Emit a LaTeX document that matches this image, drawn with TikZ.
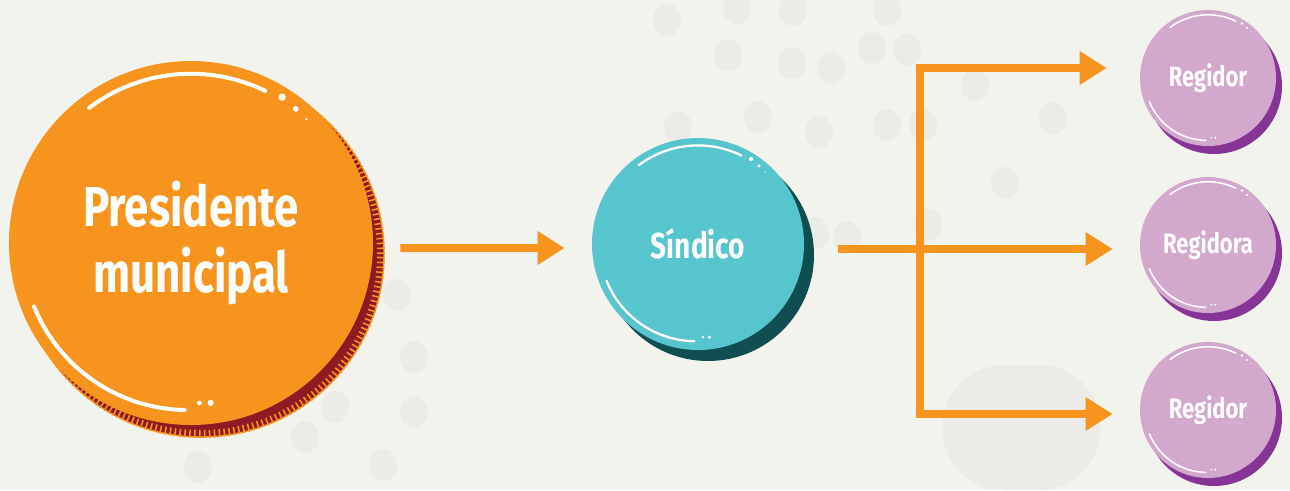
\documentclass[tikz,border=0pt]{standalone}
\usepackage{fontspec}
\usetikzlibrary{arrows.meta}
\newfontfamily\coinfont{Fira Sans}[FakeStretch=0.78]
\definecolor{myOrange}{RGB}{247,148,30}
\definecolor{myRed}{RGB}{142,27,35}
\definecolor{myTeal}{RGB}{86,197,205}
\definecolor{myDarkTeal}{RGB}{17,78,82}
\definecolor{myLilac}{RGB}{210,168,205}
\definecolor{myPurple}{RGB}{134,53,150}
\definecolor{myPaper}{RGB}{243,243,238}
\definecolor{myDot}{RGB}{237,235,231}

% white gloss on a coin: #1 node, #2 radius (cm)
\newcommand{\shine}[2]{%
	\draw[shine,line width={#2*0.022cm}] ([shift={(127:{0.93*#2})}]#1.center) arc[start angle=127,end angle=64,radius={0.93*#2}];
	\fill[white] ([shift={(58:{0.945*#2})}]#1.center) circle[radius={0.02*#2}];
	\fill[white] ([shift={(52:{0.935*#2})}]#1.center) circle[radius={0.016*#2}];
	\fill[white] ([shift={(47:{0.93*#2})}]#1.center) circle[radius={0.007*#2}];
	\draw[shine,line width={#2*0.022cm}] ([shift={(202:{0.93*#2})}]#1.center) arc[start angle=202,end angle=269,radius={0.91*#2}];
	\fill[white] ([shift={(273:{0.88*#2})}]#1.center) circle[radius={0.013*#2}];
	\fill[white] ([shift={(277:{0.885*#2})}]#1.center) circle[radius={0.017*#2}];
}

\begin{document}
\begin{tikzpicture}[
		coin/.style={circle,inner sep=0pt,text=white,align=center},
		flow/.style={draw=myOrange,line width=0.16cm,-{Triangle[length=0.54cm,width=0.64cm]}},
		shine/.style={white,line cap=round}
	]
	\useasboundingbox (0,0) rectangle (25.8,9.8);
	\fill[myPaper] (0,0) rectangle (25.8,9.8);
	
	% background spots
	\fill[myDot,rounded corners=1.2cm] (18.86,0) rectangle (22,2.5);
	\foreach \x/\y in {13.34/9.4,14.74/9.64,15.86/9.6,17.74/9.6,14.56/8.7,15.84/8.54,16.62/8.44,17.44/8.84,
		13.56/7.26,15.16/7.46,16.38/7.16,17.74/7.3,16.3/5.14,18.14/8.8,19.5/8.1,21.06/7.44,18.46/7.3,
		20.1/6.14,18.56/5.3,16.94/5.06,7.94/3.9,8.28/2.66,8.28/1.56,7.66/0.5,6.7/1.66,6.1/1.06,3.96/0.46}
		\fill[myDot] (\x,\y) ellipse (0.28 and 0.32);
	
	% Presidente municipal
	\fill[myRed,draw=myOrange,thick] (4.02,4.72) circle (3.66);
	\draw[myOrange,line width=0.16cm,dash pattern=on 0.9pt off 1.9pt] (4.02,4.72) circle (3.6);
	\node[coin,fill=myOrange,minimum size=7.28cm,font={\coinfont\bfseries\fontsize{32}{38}\selectfont}] (pres) at (3.82,4.94) {Presidente\\municipal};
	\shine{pres}{3.64}
	
	% Sindico
	\fill[myDarkTeal] (14.16,4.7) circle (2.12);
	\node[coin,fill=myTeal,minimum size=4.24cm,font={\coinfont\bfseries\fontsize{20.5}{24}\selectfont}] (sind) at (13.96,4.92) {Síndico};
	\shine{sind}{2.12}
	
	% Regidores
	\fill[myPurple] (24.28,8.08) circle (1.36);
	\node[coin,fill=myLilac,minimum size=2.72cm,font={\coinfont\bfseries\fontsize{16}{19}\selectfont}] (reg1) at (24.16,8.24) {Regidor};
	\shine{reg1}{1.36}
	\fill[myPurple] (24.28,4.74) circle (1.36);
	\node[coin,fill=myLilac,minimum size=2.72cm,font={\coinfont\bfseries\fontsize{16}{19}\selectfont}] (reg2) at (24.16,4.9) {Regidora};
	\shine{reg2}{1.36}
	\fill[myPurple] (24.28,1.44) circle (1.36);
	\node[coin,fill=myLilac,minimum size=2.72cm,font={\coinfont\bfseries\fontsize{16}{19}\selectfont}] (reg3) at (24.16,1.6) {Regidor};
	\shine{reg3}{1.36}
	
	% arrows
	\coordinate (fork) at (18.4,4.82);
	\draw[flow] ([xshift=0.54cm,yshift=-0.1cm]pres.east) -- ([xshift=-0.54cm,yshift=-0.08cm]sind.west);
	\draw[flow] ([xshift=0.68cm,yshift=-0.1cm]sind.east) -- ([xshift=-0.54cm,yshift=-0.08cm]reg2.west);
	\draw[flow] (fork) |- ([xshift=-0.66cm,yshift=0.2cm]reg1.west);
	\draw[flow] (fork) |- ([xshift=-0.54cm,yshift=-0.08cm]reg3.west);
\end{tikzpicture}
\end{document}
